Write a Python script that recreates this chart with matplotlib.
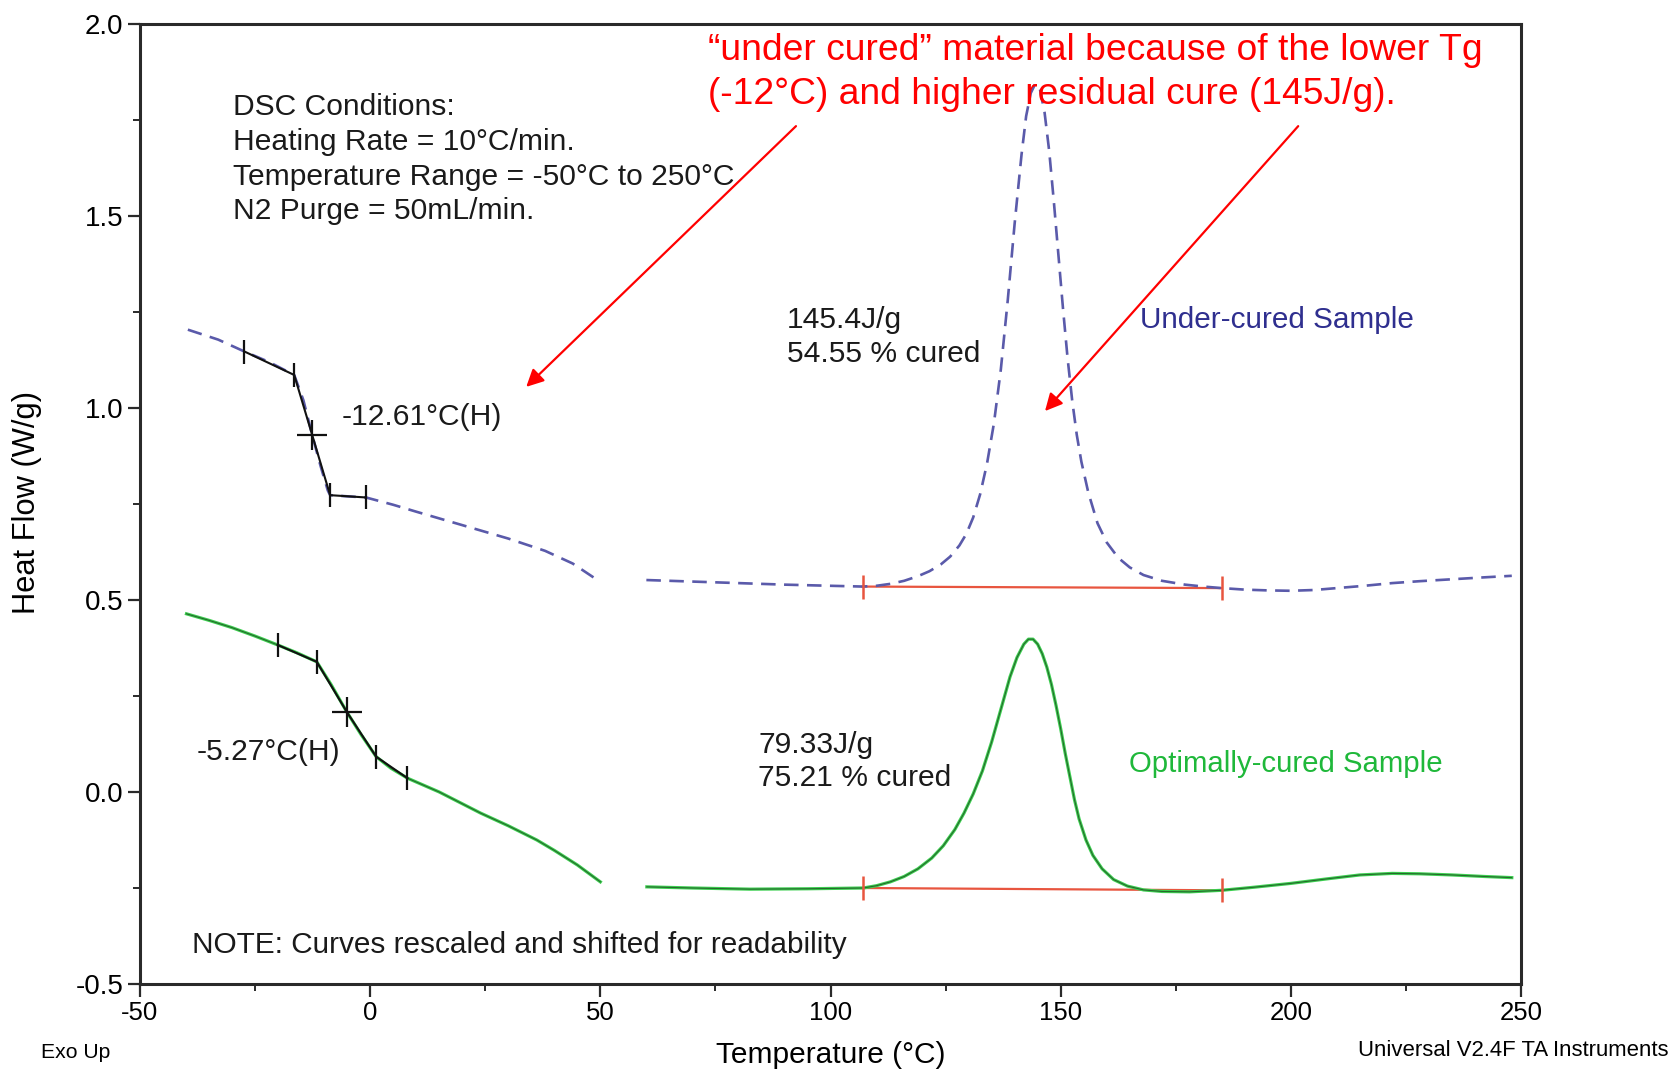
import matplotlib
matplotlib.use("Agg")
import matplotlib.pyplot as plt
from matplotlib import font_manager

# ---------------------------------------------------------------- fonts
plt.rcParams["axes.unicode_minus"] = False
_names = {f.name for f in font_manager.fontManager.ttflist}
REG = "Liberation Sans" if "Liberation Sans" in _names else "DejaVu Sans"
plt.rcParams["font.family"] = [REG, "DejaVu Sans"]

# ---------------------------------------------------------------- data
# Under-cured sample, low-temperature segment (Temperature °C, Heat Flow W/g)
under_lo_T = [-39.6, -33.0, -27.3, -22.0, -16.5, -14.5, -12.6, -10.8, -9.2, -8.7,
              -5.0, -0.9, 5.0, 10.0, 20.0, 30.0, 38.0, 44.0, 50.0]
under_lo_HF = [1.204, 1.178, 1.147, 1.120, 1.086, 1.020, 0.930, 0.850, 0.785, 0.773,
               0.770, 0.767, 0.748, 0.730, 0.695, 0.660, 0.628, 0.595, 0.547]

# Under-cured sample, high-temperature segment (cure exotherm)
under_hi_T = [60.0, 70.0, 80.0, 90.0, 100.0, 107.0, 110.0, 113.0, 116.0, 119.0,
              121.5, 124.0, 126.0, 128.0, 129.5, 131.0, 132.5, 134.0, 135.5, 137.0,
              138.5, 140.0, 141.5, 142.5, 143.5, 144.5, 145.5, 146.5, 147.5, 148.5,
              149.5, 150.5, 151.5, 152.5, 153.5, 154.5, 156.0, 158.0, 160.0, 162.5,
              165.0, 168.0, 172.0, 177.0, 181.0, 185.0, 190.0, 195.0, 200.0, 205.0,
              210.0, 216.0, 222.0, 228.0, 235.0, 242.0, 248.0]
under_hi_HF = [0.552, 0.548, 0.544, 0.540, 0.537, 0.535, 0.537, 0.542, 0.550, 0.562,
               0.575, 0.593, 0.613, 0.642, 0.672, 0.715, 0.775, 0.855, 0.960, 1.100,
               1.280, 1.480, 1.660, 1.760, 1.820, 1.845, 1.830, 1.770, 1.670, 1.540,
               1.400, 1.260, 1.130, 1.020, 0.930, 0.860, 0.780, 0.700, 0.650, 0.610,
               0.585, 0.565, 0.550, 0.540, 0.535, 0.531, 0.527, 0.525, 0.524, 0.526,
               0.531, 0.537, 0.544, 0.549, 0.554, 0.559, 0.563]

# Optimally-cured sample, low-temperature segment
opt_lo_T = [-39.9, -35.0, -30.0, -25.0, -20.1, -16.0, -11.6, -8.5, -5.1, -2.0,
            1.3, 4.5, 8.1, 15.0, 24.0, 30.0, 36.2, 40.0, 45.0, 50.0]
opt_lo_HF = [0.464, 0.447, 0.428, 0.406, 0.383, 0.363, 0.339, 0.280, 0.209, 0.150,
             0.092, 0.062, 0.036, 0.000, -0.055, -0.088, -0.125, -0.152, -0.190, -0.234]

# Optimally-cured sample, high-temperature segment
opt_hi_T = [60.1, 70.0, 82.5, 95.0, 107.1, 110.0, 113.0, 116.0, 119.0, 122.0,
            124.5, 127.0, 129.0, 131.0, 133.0, 135.0, 137.0, 139.0, 140.5, 142.0,
            143.0, 144.0, 145.0, 146.0, 147.0, 148.0, 149.0, 150.0, 151.0, 152.0,
            153.0, 154.0, 155.5, 157.0, 159.0, 161.5, 164.5, 168.0, 172.0, 178.0,
            185.0, 192.0, 200.0, 208.0, 215.0, 222.0, 228.0, 235.0, 242.0, 248.0]
opt_hi_HF = [-0.247, -0.250, -0.253, -0.252, -0.250, -0.244, -0.234, -0.220, -0.200, -0.172,
             -0.140, -0.098, -0.055, -0.005, 0.055, 0.130, 0.215, 0.300, 0.350, 0.385,
             0.398, 0.398, 0.385, 0.360, 0.325, 0.280, 0.225, 0.165, 0.100, 0.040,
             -0.020, -0.070, -0.125, -0.165, -0.200, -0.228, -0.245, -0.255, -0.259, -0.260,
             -0.256, -0.248, -0.238, -0.226, -0.216, -0.212, -0.213, -0.216, -0.220, -0.223]

# Glass-transition construction points: onset ticks, midpoint cross, end ticks
under_tg_T = [-27.3, -16.5, -12.6, -8.7, -0.9]
under_tg_HF = [1.147, 1.086, 0.930, 0.773, 0.767]
opt_tg_T = [-20.1, -11.6, -5.1, 1.3, 8.1]
opt_tg_HF = [0.383, 0.339, 0.209, 0.092, 0.036]

# Integration baselines of the cure exotherms
under_base_T = [107.0, 185.0]
under_base_HF = [0.535, 0.531]
opt_base_T = [107.1, 185.0]
opt_base_HF = [-0.250, -0.256]

x_ticks = [-50, 0, 50, 100, 150, 200, 250]
x_minor = [-25, 25, 75, 125, 175, 225]
y_ticks = [-0.5, 0.0, 0.5, 1.0, 1.5, 2.0]
y_minor = [-0.25, 0.25, 0.75, 1.25, 1.75]

BLUE = "#5a5aaa"
BLUE_TXT = "#2f2f8f"
GREEN = "#3ccf50"
GREEN_TXT = "#1fb83a"
RED_BASE = "#e8553f"
INK = "#1a1a1a"

# ---------------------------------------------------------------- figure
W, H = 1675, 1071
fig = plt.figure(figsize=(W / 100, H / 100), dpi=100)
ax = fig.add_axes([140 / W, 1 - 984 / H, (1521 - 140) / W, (984 - 24) / H])
ax.set_xlim(-50, 250)
ax.set_ylim(-0.5, 2.0)


def px(x, y):
    """Figure-fraction position from pixel coordinates measured from top-left."""
    return x / W, 1 - y / H


# under-cured trace: dashed blue
for T, HF in ((under_lo_T, under_lo_HF), (under_hi_T, under_hi_HF)):
    ax.plot(T, HF, color=BLUE, lw=1.9, dashes=(5.5, 3.2), zorder=3)

# optimally-cured trace: green with dark core
for T, HF in ((opt_lo_T, opt_lo_HF), (opt_hi_T, opt_hi_HF)):
    ax.plot(T, HF, color=GREEN, lw=2.3, zorder=3, solid_joinstyle="round")
    ax.plot(T, HF, color="#1d3d1d", lw=0.8, alpha=0.7, zorder=4,
            solid_joinstyle="round")

# glass transition constructions
for T, HF in ((under_tg_T, under_tg_HF), (opt_tg_T, opt_tg_HF)):
    ax.plot(T, HF, color="#111111", lw=1.5, zorder=5)
    ends = [0, 1, 3, 4]
    ax.plot([T[i] for i in ends], [HF[i] for i in ends], ls="none", marker="|",
            ms=17, mew=1.6, color="#111111", zorder=6)
    ax.plot([T[2]], [HF[2]], ls="none", marker="+", ms=21, mew=1.6,
            color="#111111", zorder=6)

# exotherm baselines
for T, HF in ((under_base_T, under_base_HF), (opt_base_T, opt_base_HF)):
    ax.plot(T, HF, color=RED_BASE, lw=1.6, zorder=2)
    ax.plot(T, HF, ls="none", marker="|", ms=17, mew=1.8, color=RED_BASE, zorder=6)

# axes styling
for s in ax.spines.values():
    s.set_linewidth(2.2)
    s.set_color("#2a2a2a")
ax.set_xticks(x_ticks)
ax.set_xticks(x_minor, minor=True)
ax.set_yticks(y_ticks)
ax.set_yticks(y_minor, minor=True)
ax.set_xticklabels([str(v) for v in x_ticks], fontsize=18.5)
ax.set_yticklabels([f"{v:.1f}" for v in y_ticks], fontsize=20)
ax.tick_params(axis="both", which="major", direction="out", length=9, width=1.6,
               color="#2a2a2a", pad=3)
ax.tick_params(axis="both", which="minor", direction="out", length=5, width=1.4,
               color="#2a2a2a")
ax.tick_params(axis="x", which="major", pad=3)

# axis titles and footer
fig.text(*px(27, 502), "Heat Flow (W/g)", rotation=90, ha="center", va="center",
         fontsize=22.2)
fig.text(*px(831, 1055), "Temperature (°C)", ha="center", va="center", fontsize=21.5)
fig.text(*px(41, 1052), "Exo Up", ha="left", va="center", fontsize=15.2)
fig.text(*px(1669, 1050), "Universal V2.4F TA Instruments", ha="right", va="center",
         fontsize=15.9)

# in-plot notes
cond = ["DSC Conditions:", "Heating Rate = 10°C/min.",
        "Temperature Range = -50°C to 250°C", "N2 Purge = 50mL/min."]
for yy, line in zip([107, 142, 177, 211], cond):
    fig.text(*px(233, yy), line, ha="left", va="center", fontsize=21.6, color=INK)

fig.text(*px(787, 320), "145.4J/g", ha="left", va="center", fontsize=21.6, color=INK)
fig.text(*px(787, 354), "54.55 % cured", ha="left", va="center", fontsize=21.6, color=INK)
fig.text(*px(758, 745), "79.33J/g", ha="left", va="center", fontsize=21.6, color=INK)
fig.text(*px(758, 778), "75.21 % cured", ha="left", va="center", fontsize=21.6, color=INK)
fig.text(*px(342, 417), "-12.61°C(H)", ha="left", va="center", fontsize=21.6, color=INK)
fig.text(*px(197, 752), "-5.27°C(H)", ha="left", va="center", fontsize=21.6, color=INK)
fig.text(*px(1140, 320), "Under-cured Sample", ha="left", va="center", fontsize=21.4,
         color=BLUE_TXT)
fig.text(*px(1129, 764), "Optimally-cured Sample", ha="left", va="center", fontsize=21.2,
         color=GREEN_TXT)
fig.text(*px(192, 945), "NOTE: Curves rescaled and shifted for readability", ha="left",
         va="center", fontsize=21.45, color=INK)

# red commentary with arrows
fig.text(*px(708, 50), "\u201cunder cured\u201d material because of the lower Tg",
         ha="left", va="center", fontsize=26.8, color="red")
fig.text(*px(708, 94), "(-12°C) and higher residual cure (145J/g).",
         ha="left", va="center", fontsize=26.8, color="red")
arrow = dict(arrowstyle="-|>", color="red", lw=1.6, mutation_scale=26,
             shrinkA=0, shrinkB=0)
ax.annotate("", xy=(33.9, 1.055), xytext=(92.5, 1.734), arrowprops=arrow)
ax.annotate("", xy=(146.6, 0.992), xytext=(201.6, 1.734), arrowprops=arrow)

fig.savefig("out.png", dpi=100, facecolor="white")
